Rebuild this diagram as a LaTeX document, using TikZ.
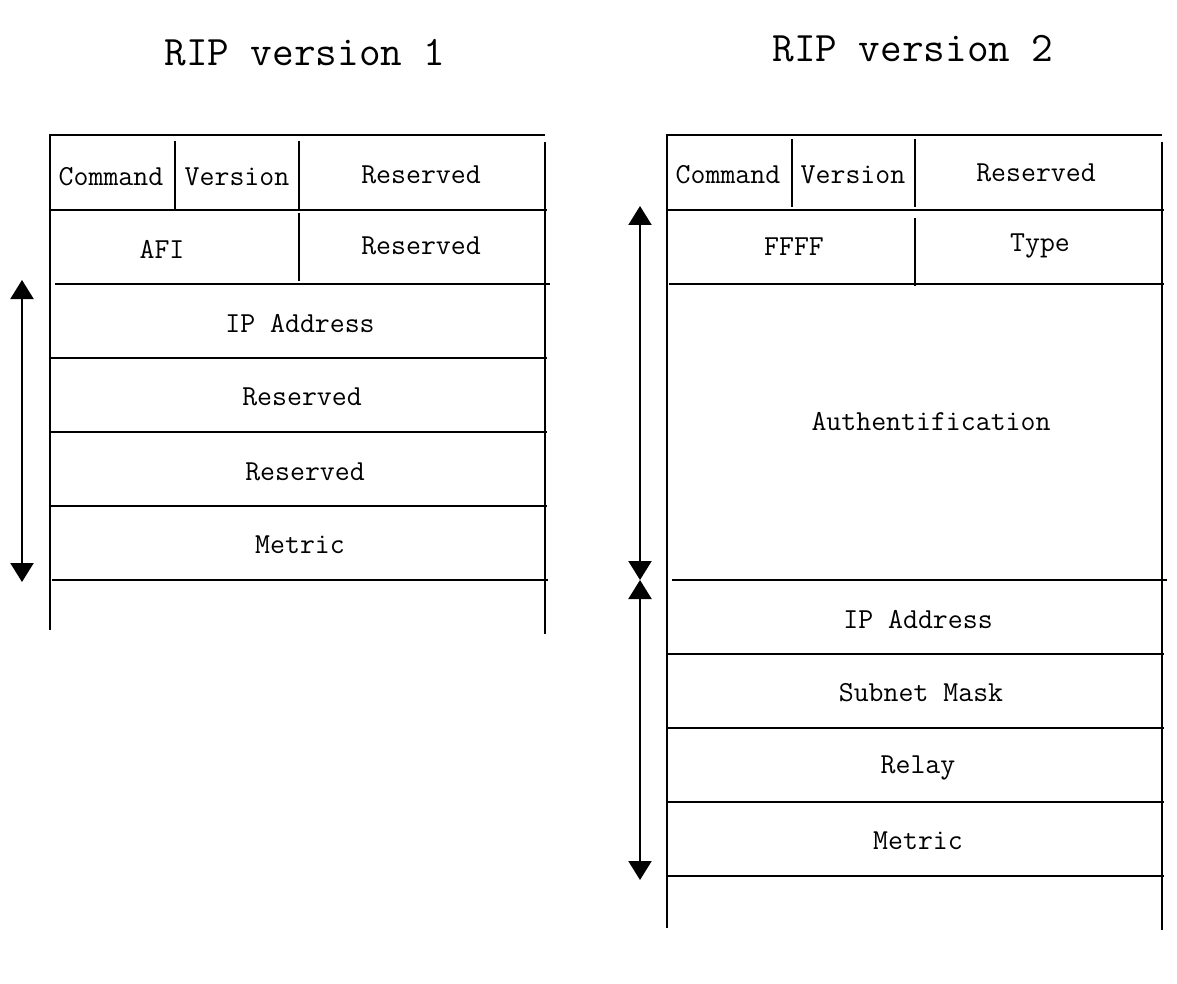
\documentclass[tikz,border=0pt]{standalone}
\usepackage{fontspec}
\usetikzlibrary{arrows.meta}
\tikzset{
  rule/.style={line width=2.2pt, line cap=butt},
  field/.style={font=\ttfamily\fontsize{29}{29}\selectfont, inner sep=0pt, anchor=center},
  title/.style={font=\ttfamily\fontsize{42}{42}\selectfont, inner sep=0pt, anchor=center},
  span/.style={line width=2.2pt, {Triangle[width=23pt,length=19pt]}-{Triangle[width=23pt,length=19pt]}}
}
\begin{document}
\begin{tikzpicture}[x=1pt,y=-1pt]
\useasboundingbox (0,0) rectangle (1177,984);

% ---------- RIP version 1 ----------
\node[title] (t1) at (305,53) {RIP version 1};
\draw[rule] (50,135) -- (545,135);
\draw[rule] (50,134) -- (50,630);
\draw[rule] (545,142) -- (545,634);
\draw[rule] (50,210) -- (547,210);
\draw[rule] (55,284) -- (550,284);
\draw[rule] (50,358) -- (547,358);
\draw[rule] (50,432) -- (547,432);
\draw[rule] (50,506) -- (547,506);
\draw[rule] (52,580) -- (548,580);
\draw[rule] (175,141) -- (175,209);
\draw[rule] (299,141) -- (299,209);
\draw[rule] (299,213) -- (299,281);

\node[field] (c1) at (111,177) {Command};
\node[field] (v1) at (237,177) {Version};
\node[field] (r1a) at (421,175) {Reserved};
\node[field] (afi) at (162,249) {AFI};
\node[field] (r1b) at (421,246) {Reserved};
\node[field] (ip1) at (300,324) {IP Address};
\node[field] (r1c) at (302,397) {Reserved};
\node[field] (r1d) at (305,472) {Reserved};
\node[field] (m1) at (300,545) {Metric};

\coordinate (a1top) at (22,280);
\coordinate (a1bot) at (22,582);
\draw[span] (a1top) -- (a1bot);

% ---------- RIP version 2 ----------
\node[title] (t2) at (913,49) {RIP version 2};
\draw[rule] (667,135) -- (1162,135);
\draw[rule] (667,134) -- (667,928);
\draw[rule] (1162,142) -- (1162,930);
\draw[rule] (667,210) -- (1164,210);
\draw[rule] (669,284) -- (1164,284);
\draw[rule] (672,580) -- (1167,580);
\draw[rule] (667,654) -- (1164,654);
\draw[rule] (667,728) -- (1164,728);
\draw[rule] (667,802) -- (1164,802);
\draw[rule] (667,876) -- (1164,876);
\draw[rule] (792,139) -- (792,207);
\draw[rule] (915,139) -- (915,207);
\draw[rule] (915,218) -- (915,286);

\node[field] (c2) at (728,175) {Command};
\node[field] (v2) at (853,175) {Version};
\node[field] (r2) at (1036,173) {Reserved};
\node[field] (ffff) at (794,247) {FFFF};
\node[field] (type) at (1040,246) {Type};
\node[field] (auth) at (931,422) {Authentification};
\node[field] (ip2) at (918,620) {IP Address};
\node[field] (mask) at (921,693) {Subnet Mask};
\node[field] (relay) at (918,768) {Relay};
\node[field] (m2) at (918,841) {Metric};

\coordinate (a2top) at (640,206);
\coordinate (a2mid) at (640,580);
\coordinate (a2bot) at (640,880);
\draw[span] (a2top) -- (a2mid);
\draw[span] (a2mid) -- (a2bot);
\end{tikzpicture}
\end{document}
